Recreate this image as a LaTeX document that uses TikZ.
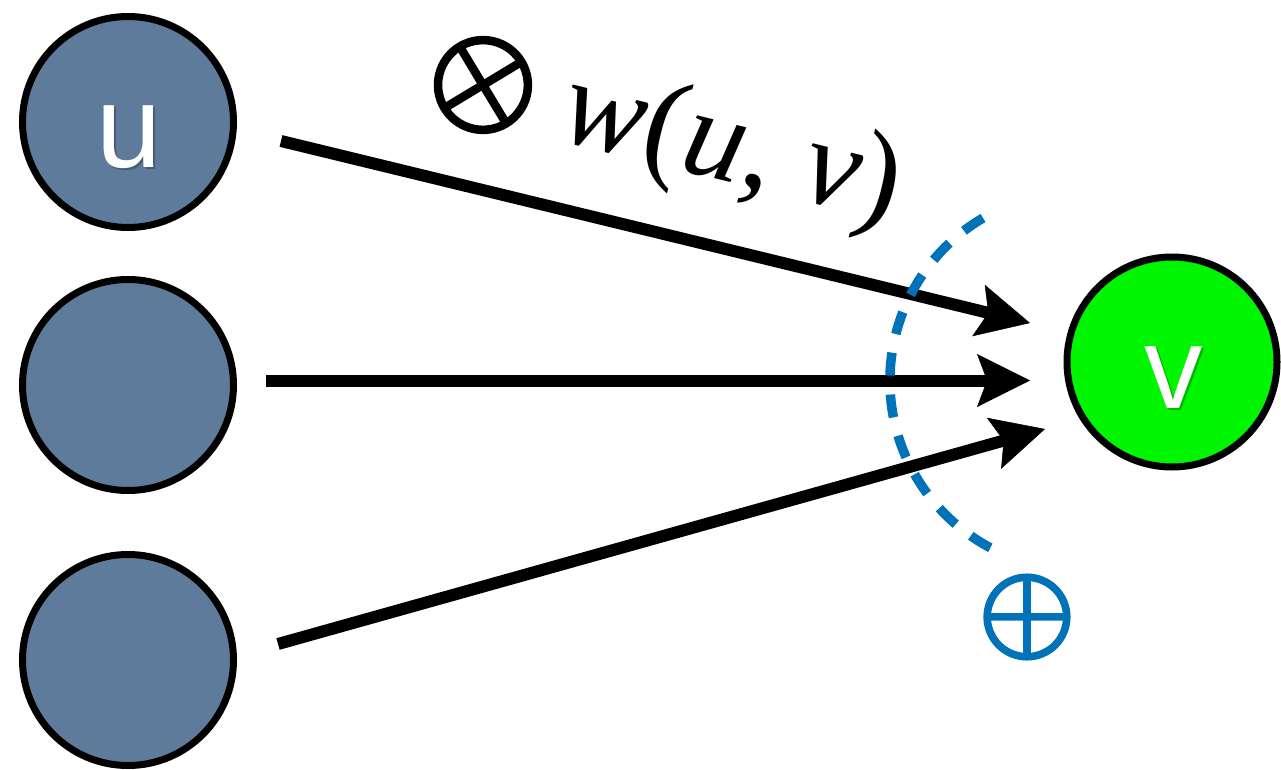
\documentclass[tikz,border=0pt]{standalone}
\usepackage{fontspec}
\usepackage{graphicx}
\setmainfont{Liberation Serif}
\newfontfamily\lettersans{Liberation Sans}
\usetikzlibrary{arrows.meta}
\definecolor{nodeblue}{RGB}{95,123,155}
\definecolor{vgreen}{RGB}{0,245,0}
\definecolor{cutblue}{RGB}{0,114,184}
\newcommand{\thicksym}[1]{\special{pdf:literal 2 Tr 0.36 w 1 j}#1\special{pdf:literal 0 Tr}}
\begin{document}
\begin{tikzpicture}[x=1pt,y=-1pt,
  graynode/.style={circle, draw=black, line width=7pt, fill=nodeblue, minimum size=211pt, inner sep=0pt},
  greennode/.style={circle, draw=black, line width=7pt, fill=vgreen, minimum size=210pt, inner sep=0pt},
  letter/.style={text=white, inner sep=0pt, font=\lettersans\fontsize{117}{117}\selectfont},
  letshadow/.style={text=black, opacity=0.25, inner sep=0pt, font=\lettersans\fontsize{117}{117}\selectfont},
  edgearrow/.style={line width=12pt, line cap=butt, -{Stealth[length=53pt,width=53pt,inset=10pt,line width=0.5pt]}},
  cutline/.style={draw=cutblue, line width=9.5pt, dash pattern=on 23pt off 19pt},
  bigsym/.style={inner sep=0pt}
]
\useasboundingbox (0,0) rectangle (1281,770);

% nodes
\node[graynode] (u) at (128,122) {};
\node[graynode] (m) at (128,385) {};
\node[graynode] (b) at (128,660) {};
\node[greennode] (v) at (1172,362) {};

\node[letshadow] at (131,139.5) {u};
\node[letter] (ulab) at (129,137) {u};
\node[letshadow] at (1176,380) {v};
\node[letter] (vlab) at (1174,377.5) {v};

% connector ends
\coordinate (s1) at (281,141);
\coordinate (e1) at (1030,323);
\coordinate (s2) at (266,380.5);
\coordinate (e2) at (1030,380.5);
\coordinate (s3) at (278,644);
\coordinate (e3) at (1045,429);

\draw[edgearrow] (s1) -- (e1);
\draw[edgearrow] (s2) -- (e2);
\draw[edgearrow] (s3) -- (e3);

% cut arc
\coordinate (cuttop) at (983,218);
\draw[cutline] (cuttop) arc[start angle=-120.5, end angle=-245.3, radius=189];

% labels
\node[bigsym, rotate=-14] (otimes) at (483,85) {\scalebox{14.0}{\thicksym{$\otimes$}}};
\node[inner sep=0pt, anchor=base, rotate=-13.7, font=\fontsize{124}{124}\selectfont] (wlab) at (724,180.5) {\textit{w}(\textit{u}, \textit{v})};
\node[bigsym, text=cutblue] (oplus) at (1027,617) {\scalebox{12.4}{\thicksym{$\oplus$}}};
\end{tikzpicture}
\end{document}
